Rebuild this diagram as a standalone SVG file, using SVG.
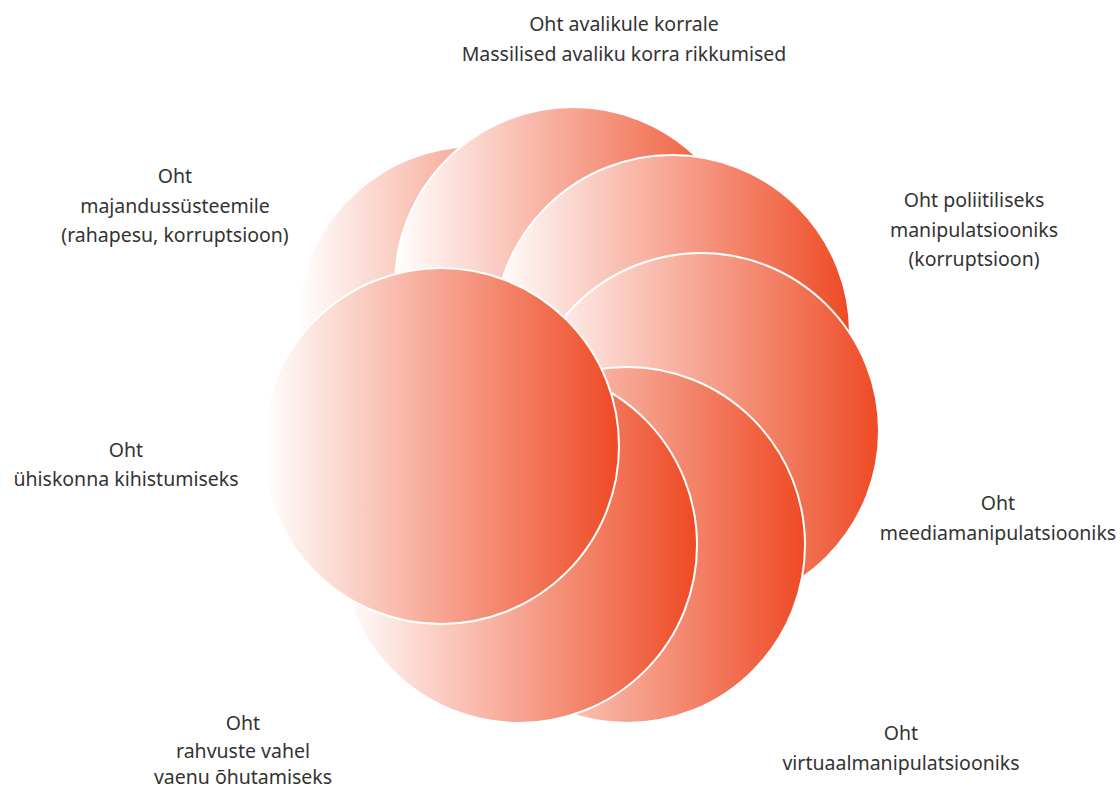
<svg xmlns="http://www.w3.org/2000/svg" width="1120" height="790" viewBox="0 0 1120 790">
<defs>
<linearGradient id="g" x1="0" y1="0" x2="1" y2="0">
<stop offset="0" stop-color="#ffffff"/>
<stop offset="1" stop-color="#EE4A24"/>
</linearGradient>
<style>
.c{fill:url(#g);stroke:#fff;stroke-width:2}
.t{font-family:"Noto Sans","Open Sans",sans-serif;font-size:19.5px;fill:#333;text-anchor:middle}
</style>
</defs>
<rect width="1120" height="790" fill="#fff"/>
<g id="connectors"></g>
<g id="n-majandus">
<circle class="c" cx="476" cy="325" r="178" style="stroke:none"/>
<text class="t" x="175" y="183">Oht</text>
<text class="t" x="175" y="213">majandussüsteemile</text>
<text class="t" x="175" y="242">(rahapesu, korruptsioon)</text>
</g>
<g id="n-avalik">
<circle class="c" cx="573" cy="285" r="178"/>
<text class="t" x="624" y="31">Oht avalikule korrale</text>
<text class="t" x="624" y="61">Massilised avaliku korra rikkumised</text>
</g>
<g id="n-poliitiline">
<circle class="c" cx="672" cy="333" r="178"/>
<text class="t" x="974" y="207">Oht poliitiliseks</text>
<text class="t" x="974" y="237">manipulatsiooniks</text>
<text class="t" x="974" y="266">(korruptsioon)</text>
</g>
<g id="n-meedia">
<circle class="c" cx="701" cy="431" r="178"/>
<text class="t" x="998" y="510">Oht</text>
<text class="t" x="998" y="540">meediamanipulatsiooniks</text>
</g>
<g id="n-virtuaal">
<circle class="c" cx="627" cy="545" r="178"/>
<text class="t" x="901" y="740">Oht</text>
<text class="t" x="901" y="770">virtuaalmanipulatsiooniks</text>
</g>
<g id="n-rahvused">
<circle class="c" cx="519" cy="545" r="178"/>
<text class="t" x="243" y="730">Oht</text>
<text class="t" x="243" y="758">rahvuste vahel</text>
<text class="t" x="243" y="784">vaenu õhutamiseks</text>
</g>
<g id="n-uhiskond">
<circle class="c" cx="441" cy="446" r="178"/>
<text class="t" x="126" y="457">Oht</text>
<text class="t" x="126" y="486">ühiskonna kihistumiseks</text>
</g>
</svg>
